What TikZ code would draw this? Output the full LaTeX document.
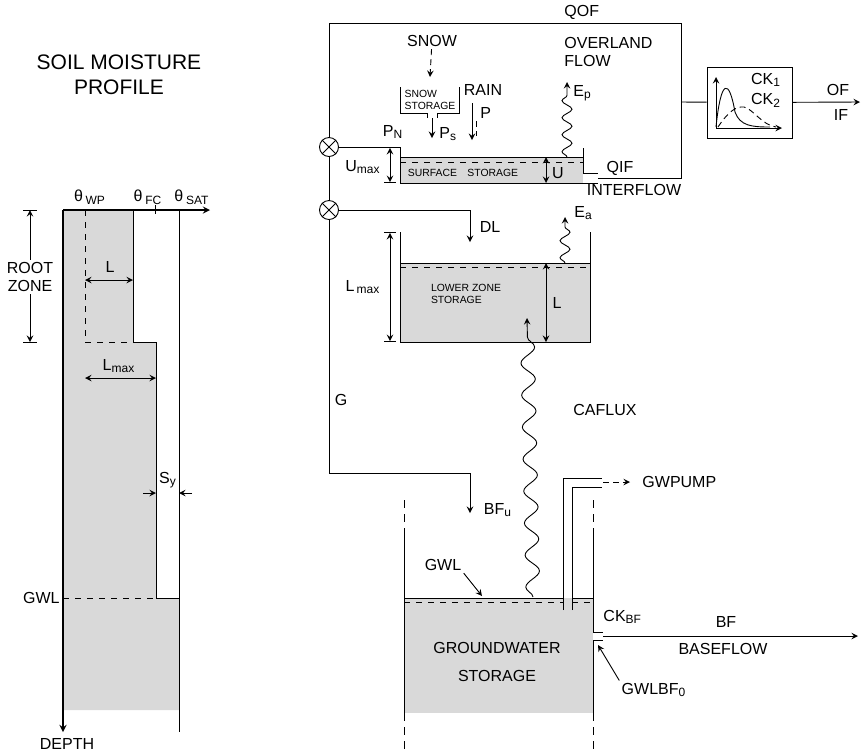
\documentclass[tikz,border=0pt]{standalone}
\usepackage{fontspec}
\setmainfont{Liberation Sans}
\usetikzlibrary{arrows, positioning, decorations.pathmorphing}

\begin{document}
\begin{tikzpicture}[x=0.5pt, y=-0.5pt, >=stealth, line width=0.45pt,
    lbl/.style={font=\fontsize{8}{9}\selectfont, inner sep=1pt},
    sml/.style={font=\fontsize{5.2}{6}\selectfont, inner sep=1pt, align=left},
    ttl/.style={font=\fontsize{10.5}{12.5}\selectfont, align=center},
    soil/.style={fill=black!15},
    longdash/.style={dash pattern=on 4pt off 3pt},
    mixer/.style={circle, draw, minimum size=9.5pt, inner sep=0pt},
    wavy/.style={->, decorate, decoration={snake, amplitude=2.5pt, segment length=8.5pt, post length=4pt}}]
    \useasboundingbox (0,0) rectangle (862,752);

    % soil moisture profile
    \node[ttl] (title) at (119,75) {SOIL MOISTURE\\PROFILE};
    \fill[soil] (63,210) -| (133,342) -| (156,598) -| (179,710) -| cycle;
    \draw (133,210) |- (156,342) |- (179,598);
    \draw (179,210) -- (179,732);
    \draw[dashed] (85,210) |- (133,342);
    \draw[dashed] (63,598) -- (156,598);
    \draw[->, line width=0.6pt] (63,210) -- (210,210);
    \draw[->, line width=0.6pt] (63,210) -- (63,732);
    \draw (155,205) -- (155,214);
    \node[lbl] (wp) at (90,197) {θ\,\textsubscript{WP}};
    \node[lbl] (fc) at (148,197) {θ\,\textsubscript{FC}};
    \node[lbl] (sat) at (192,197) {θ\,\textsubscript{SAT}};

    \node[lbl, align=center] (root) at (30,277) {ROOT\\ZONE};
    \coordinate (rzTop) at (30,210);
    \coordinate (rzBot) at (30,342);
    \draw[->] (root) -- (rzTop);
    \draw[->] (root) -- (rzBot);
    \draw ([xshift=-3.5pt]rzTop) -- ([xshift=3.5pt]rzTop);
    \draw ([xshift=-3.5pt]rzBot) -- ([xshift=3.5pt]rzBot);

    \draw[<->] (85,280) -- (133,280);
    \node[lbl] (lroot) at (110,267) {L};
    \draw[<->] (85,378) -- (156,378);
    \node[lbl] (lmax) at (119,366) {L\textsubscript{max}};
    \draw[->] (143,493) -- (156,493);
    \draw[->] (192,493) -- (179,493);
    \node[lbl] (sy) at (168,480) {S\textsubscript{y}};
    \node[lbl, anchor=east] (gwlA) at (62,598) {GWL};
    \node[lbl] (depth) at (67,744) {DEPTH};

    % surface storage and routing loop
    \node[mixer] (mixA) at (329,147) {};
    \node[mixer] (mixB) at (329,210) {};
    \draw (mixA.north west) -- (mixA.south east) (mixA.north east) -- (mixA.south west);
    \draw (mixB.north west) -- (mixB.south east) (mixB.north east) -- (mixB.south west);
    \draw (mixA) -- (329,23) -| (681,178) -- (598,178);
    \draw (mixA) -- (mixB);
    \draw[->] (mixB) -- (329,473) -| (470,513);
    \draw[->] (mixB) -| (470,242);

    \fill[soil] (400,157) rectangle (583,183);
    \draw (mixA) -- (400,147) -- (400,183) -- (598,183);
    \draw (400,157) -- (583,157);
    \draw[dashed] (400,162) -- (583,162);
    \draw (583,148) -- (583,173) -- (598,173);
    \node[sml] (surf) at (463,173) {SURFACE\quad STORAGE};
    \draw[|<->|] (390,147) -- (390,183);
    \node[lbl] (umax) at (363,167) {U\textsubscript{max}};
    \draw[<->] (546,157) -- (546,183);
    \node[lbl] (u) at (558,173) {U};

    \node[lbl] (snow) at (432,41) {SNOW};
    \draw[->, densely dashed] (snow) -- (430,77);
    \draw (400,87) |- (427,113) -- (427,118);
    \draw (459,87) |- (437,113) -- (437,118);
    \node[sml] (snowst) at (430,100) {SNOW\\STORAGE};
    \draw[->] (432,118) -- (432,138);
    \node[lbl, anchor=west] (ps) at (437,134) {P\textsubscript{s}};
    \node[lbl] (rain) at (483,90) {RAIN};
    \draw[->] (472,103) -- (472,140);
    \draw[densely dashed] (476,121) -- (476,136);
    \node[lbl, anchor=west] (p) at (478,113) {P};
    \node[lbl] (pn) at (393,132) {P\textsubscript{N}};

    \draw[wavy] (567,157) -- (567,82);
    \node[lbl, anchor=west] (ep) at (571,93) {E\textsubscript{p}};
    \node[lbl, anchor=west] (qof) at (562,12) {QOF};
    \node[lbl, anchor=west, align=left] (olf) at (562,52) {OVERLAND\\FLOW};
    \node[lbl] (qif) at (620,168) {QIF};
    \node[lbl] (ifl) at (634,190) {INTERFLOW};

    % routing box
    \node[draw, minimum width=42.5pt, minimum height=35.5pt, inner sep=0pt] (ck) at (749.5,102.5) {};
    \draw (681,102) -- (ck);
    \draw[->] (ck) -- (860,102);
    \node[lbl] (of) at (838,90) {OF};
    \node[lbl] (if) at (841,115) {IF};
    \draw[->] (716,128) -- (716,77);
    \draw[->] (716,128) -- (782,128);
    \draw (716,127) .. controls (721,78) and (729,78) .. (735,112) .. controls (740,126) and (752,127) .. (770,127);
    \draw[densely dashed] (718,127) .. controls (728,112) and (736,106) .. (744,107) .. controls (753,109) and (762,125) .. (776,127);
    \node[lbl] (ck1) at (766,80) {CK\textsubscript{1}};
    \node[lbl] (ck2) at (766,100) {CK\textsubscript{2}};

    % lower zone storage
    \fill[soil] (400,263) rectangle (590,342);
    \draw (400,232) |- (590,342) -- (590,232);
    \draw (400,263) -- (590,263);
    \draw[dashed] (400,267) -- (590,267);
    \node[lbl] (dl) at (490,227) {DL};
    \draw[|<->|] (390,232) -- (390,342);
    \node[lbl] (lzmax) at (363,287) {L\textsubscript{\,max}};
    \draw[<->] (546,263) -- (546,342);
    \node[lbl] (lz) at (557,303) {L};
    \node[sml] (lower) at (466,294) {LOWER ZONE\\STORAGE};
    \draw[wavy] (565,263) -- (565,217);
    \node[lbl, anchor=west] (ea) at (572,213) {E\textsubscript{a}};
    \draw[wavy, decoration={amplitude=3.5pt, segment length=16pt}] (533,597) -- (527,318);
    \node[lbl] (caflux) at (605,410) {CAFLUX};
    \node[lbl] (g) at (341,400) {G};
    \node[lbl] (bfu) at (498,510) {BF\textsubscript{u}};

    % groundwater storage
    \fill[soil] (404,598) rectangle (593,713);
    \draw (404,533) -- (404,713);
    \draw (593,533) -- (593,632) (593,640) -- (593,713);
    \draw[longdash] (404,500) -- (404,533) (404,713) -- (404,752);
    \draw[longdash] (593,500) -- (593,533) (593,713) -- (593,752);
    \draw (404,598) -- (563,598) (572,598) -- (593,598);
    \draw[dashed] (404,602) -- (563,602) (572,602) -- (593,602);
    \draw (563,610) |- (602,478);
    \draw (572,610) |- (602,487);
    \draw[->, densely dashed] (603,482) -- (630,482);
    \node[lbl, anchor=west] (pump) at (640,482) {GWPUMP};
    \node[lbl] (gwlB) at (443,565) {GWL};
    \draw[->] (gwlB.south east) -- (482,596);
    \node[lbl, align=center] (gws) at (497,662) {GROUNDWATER\\[5pt]STORAGE};

    \draw (593,632) -- (603,632);
    \draw (593,640) -- (603,640);
    \draw[->] (603,636) -- (858,636);
    \node[lbl, anchor=west] (ckbf) at (601,617) {CK\textsubscript{BF}};
    \node[lbl] (bf) at (726,622) {BF};
    \node[lbl] (basef) at (723,649) {BASEFLOW};
    \node[lbl] (gwlbf) at (654,690) {GWLBF\textsubscript{0}};
    \draw[->] (gwlbf.north west) -- (598,645);
\end{tikzpicture}
\end{document}
